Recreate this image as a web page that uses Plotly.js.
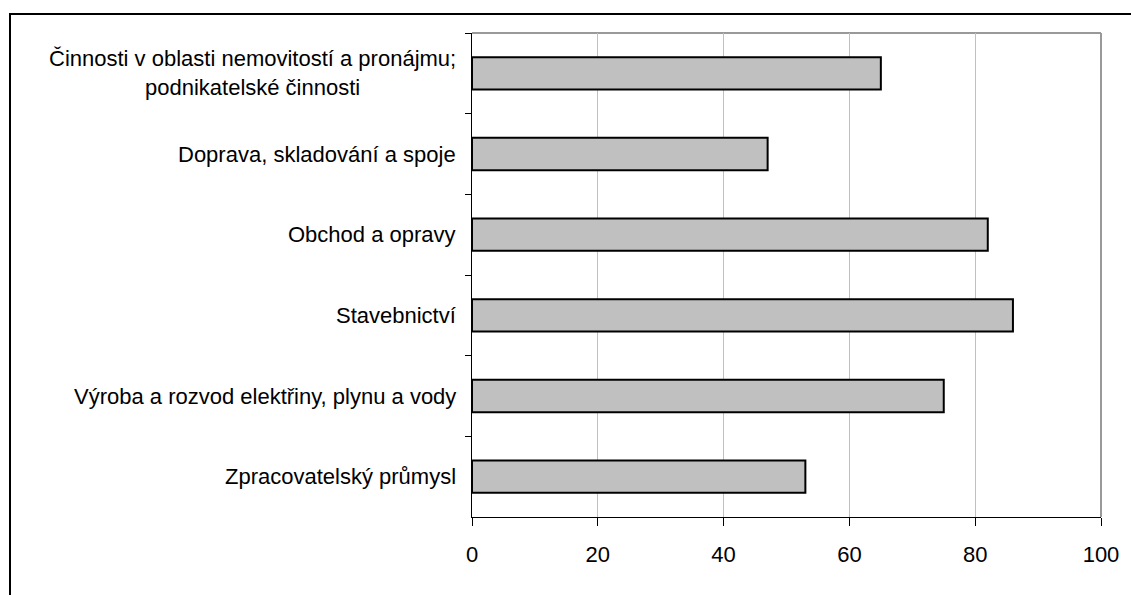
<!DOCTYPE html>
<html>
<head>
<meta charset="utf-8">
<script src="https://cdn.plot.ly/plotly-3.0.1.min.js"></script>
<style>
html,body{margin:0;padding:0;background:#fff;}
#chart{width:1131px;height:595px;}
</style>
</head>
<body>
<div id="chart"></div>
<script>
// Categories, top to bottom as shown in the chart
const categories = [
  "Činnosti v oblasti nemovitostí a pronájmu;<br>podnikatelské činnosti",
  "Doprava, skladování a spoje",
  "Obchod a opravy",
  "Stavebnictví",
  "Výroba a rozvod elektřiny, plynu a vody",
  "Zpracovatelský průmysl"
];
const values = [65, 47, 82, 86, 75, 53];
const xTicks = [0, 20, 40, 60, 80, 100];

const W = 1131, H = 595;
const L = 472, R = 30, T = 33, B = 78;
const pw = W - L - R, ph = H - T - B;
function px2x(p){ return (p - L) / pw; }
function py2y(p){ return (H - B - p) / ph; }

const FONT = 'Liberation Sans, Arial, sans-serif';

const trace = {
  type: 'bar',
  orientation: 'h',
  x: values,
  y: categories,
  marker: {color: '#C0C0C0', line: {color: '#000000', width: 2}},
  hoverinfo: 'x+y'
};

// category labels drawn as centred multi-line annotations (like the original)
const labelAnnotations = categories.map(c => ({
  xref: 'paper', yref: 'y',
  x: px2x(458), y: c,
  xanchor: 'right', yanchor: 'middle',
  align: 'center',
  text: c,
  showarrow: false,
  font: {size: 22, family: FONT, color: '#000'}
}));

const layout = {
  width: W, height: H,
  margin: {l: L, r: R, t: T, b: B, pad: 0},
  paper_bgcolor: '#ffffff',
  plot_bgcolor: '#ffffff',
  showlegend: false,
  bargap: 0.6,
  font: {family: FONT, color: '#000000'},
  xaxis: {
    range: [0, 100],
    tickvals: xTicks,
    ticktext: xTicks.map(String),
    ticks: 'outside', ticklen: 8, tickwidth: 1, tickcolor: '#000',
    showline: true, linecolor: '#000', linewidth: 1,
    showgrid: true, gridcolor: '#C0C0C0', gridwidth: 1,
    zeroline: false,
    tickfont: {size: 22, family: FONT, color: '#000'},
    ticklabelstandoff: 10,
    fixedrange: true
  },
  yaxis: {
    type: 'category',
    categoryorder: 'array',
    categoryarray: categories,
    autorange: 'reversed',
    tickson: 'boundaries',
    ticks: 'outside', ticklen: 6, tickwidth: 1, tickcolor: '#000',
    showline: true, linecolor: '#000', linewidth: 1,
    showgrid: false,
    zeroline: false,
    showticklabels: false,
    fixedrange: true
  },
  annotations: labelAnnotations,
  shapes: [
    // plot area border (top and right in gray)
    {type: 'line', xref: 'paper', yref: 'paper', x0: 0, x1: 1, y0: 1, y1: 1,
     line: {color: '#999999', width: 2}, layer: 'below'},
    {type: 'line', xref: 'paper', yref: 'paper', x0: 1, x1: 1, y0: 0, y1: 1,
     line: {color: '#999999', width: 2}, layer: 'below'},
    // outer chart frame
    {type: 'rect', xref: 'paper', yref: 'paper',
     x0: px2x(10), x1: px2x(1145), y0: py2y(14), y1: py2y(610),
     line: {color: '#000000', width: 2}, fillcolor: 'rgba(0,0,0,0)', layer: 'above'}
  ]
};

Plotly.newPlot('chart', [trace], layout, {displayModeBar: false, staticPlot: true});
</script>
</body>
</html>
